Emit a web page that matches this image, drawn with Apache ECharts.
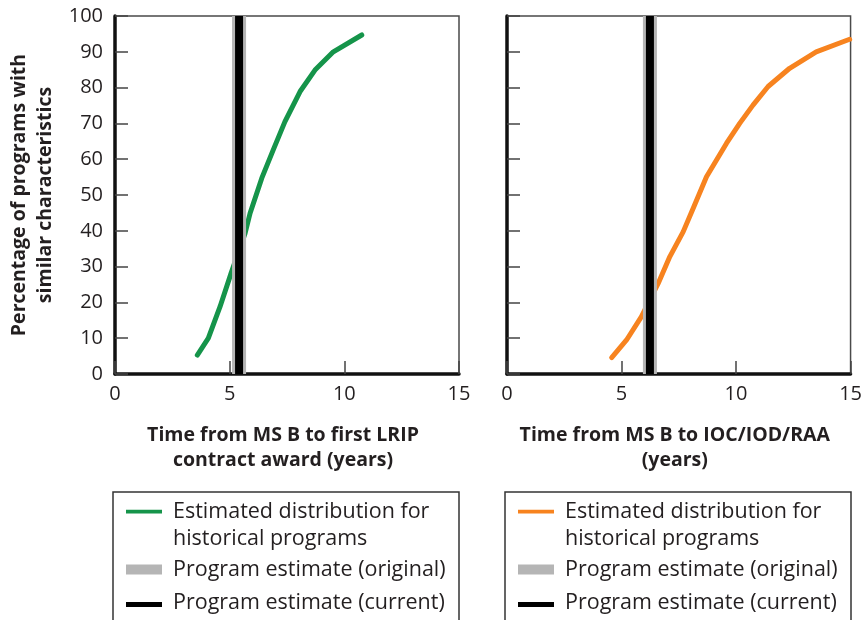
<!DOCTYPE html>
<html>
<head>
<meta charset="utf-8">
<script src="https://cdn.jsdelivr.net/npm/echarts@6/dist/echarts.min.js"></script>
<style>html,body{margin:0;padding:0;background:#fff}#c{width:865px;height:620px}</style>
</head>
<body>
<div id="c"></div>
<script>
// ---- data ----
const lripYears = [3.59, 4.07, 4.58, 5.06, 5.67, 5.89, 6.40, 6.90, 7.41, 8.07, 8.72, 9.52, 10.76];
const lripPct   = [5.3, 10.0, 18.8, 28.1, 39.3, 44.9, 54.7, 62.6, 70.5, 78.9, 84.9, 90.0, 94.7];
const iocYears  = [4.57, 5.22, 5.87, 6.60, 7.11, 7.69, 8.13, 8.71, 9.58, 10.16, 10.74, 11.40, 12.34, 13.50, 14.96];
const iocPct    = [4.6, 9.5, 16.0, 25.3, 32.8, 39.7, 46.3, 55.1, 64.4, 70.0, 75.1, 80.3, 85.4, 90.0, 93.5];
const estimateOriginal = [5.41, 6.24]; // [LRIP panel, IOC panel]
const estimateCurrent  = [5.41, 6.24];
const pctRange = [0, 100];
const xAxisTitles = ['Time from MS B to first LRIP\ncontract award (years)', 'Time from MS B to IOC/IOD/RAA\n(years)'];
const yAxisTitle = 'Percentage of programs with\nsimilar characteristics';
const nameDist = 'Estimated distribution for\nhistorical programs';
const nameOrig = 'Program estimate (original)';
const nameCur = 'Program estimate (current)';

const FONT = 'Open Sans';
const TXT = '#231f20';
const GREEN = '#15944a';
const ORANGE = '#f7831f';
const GRAY = '#b5b5b5';
const BLACK = '#000000';

function zip(a, b) { return a.map((v, i) => [v, b[i]]); }
function vline(x) { return pctRange.map(p => [x, p]); }

const grids = [
  {left: 115, top: 16, width: 344, height: 358},
  {left: 507, top: 16, width: 344, height: 358}
].map(g => Object.assign(g, {show: true, borderColor: '#4a4a4a', borderWidth: 1.5, backgroundColor: 'transparent'}));

function xAx(i) {
  return {
    type: 'value', gridIndex: i, min: 0, max: 15, interval: 5,
    name: xAxisTitles[i], nameLocation: 'middle', nameGap: 49,
    nameTextStyle: {fontFamily: FONT, fontSize: 19.5, fontWeight: 'bold', color: TXT, lineHeight: 25, padding: [0, 8, 0, 0]},
    axisLine: {show: true, lineStyle: {color: '#111', width: 3.5}},
    axisTick: {show: true, inside: true, length: 13, lineStyle: {color: '#444', width: 1.5}},
    axisLabel: {fontFamily: FONT, fontSize: 20, color: TXT, margin: 10},
    splitLine: {show: false}
  };
}
function yAx(i) {
  return {
    type: 'value', gridIndex: i, min: 0, max: 100, interval: 10,
    name: i === 0 ? yAxisTitle : '', nameLocation: 'middle', nameGap: 57, nameRotate: 90,
    nameTextStyle: {fontFamily: FONT, fontSize: 19.5, fontWeight: 'bold', color: TXT, lineHeight: 26},
    axisLine: {show: true, onZero: false, lineStyle: {color: '#111', width: 3.5}},
    axisTick: {show: true, inside: true, length: 13, lineStyle: {color: '#444', width: 1.5}},
    axisLabel: {show: i === 0, fontFamily: FONT, fontSize: 20, color: TXT, margin: 12},
    splitLine: {show: false}
  };
}

function curve(i, name, data, color) {
  return {type: 'line', name, xAxisIndex: i, yAxisIndex: i, data, color,
    symbol: 'none', silent: true, z: 2, lineStyle: {color, width: 5, cap: 'round', join: 'round'}};
}
function band(i, name, x, color, w, z) {
  return {type: 'line', name, xAxisIndex: i, yAxisIndex: i, data: vline(x), color,
    symbol: 'none', silent: true, z, lineStyle: {color, width: w, cap: 'butt'}};
}

// legend icons (42 x 32 box; invisible corner dots fix the box)
const CORNERS = 'M0,0h0.01v0.01h-0.01z M41.99,31.99h0.01v0.01h-0.01z ';
const iconLine = 'path://' + CORNERS + 'M0,0.2h36v3.8h-36z';
const iconGray = 'path://' + CORNERS + 'M0,11h36v10h-36z';
const iconBlack = 'path://' + CORNERS + 'M0,15.5h36v5h-36z';

function legend(left, distColor) {
  return {
    left, top: 498.5, orient: 'vertical', padding: 0, itemGap: 1,
    itemWidth: 42, itemHeight: 32, selectedMode: false,
    itemStyle: {borderWidth: 0},
    textStyle: {fontFamily: FONT, fontSize: 21.5, color: TXT, lineHeight: 27},
    data: [
      {name: nameDist, icon: iconLine, itemStyle: {color: distColor, borderWidth: 0}},
      {name: nameOrig, icon: iconGray, itemStyle: {color: GRAY, borderWidth: 0}},
      {name: nameCur, icon: iconBlack, itemStyle: {color: BLACK, borderWidth: 0}}
    ]
  };
}

const chart = echarts.init(document.getElementById('c'), null, {renderer: 'canvas'});
chart.setOption({
  animation: false,
  backgroundColor: '#ffffff',
  textStyle: {fontFamily: FONT},
  grid: grids,
  xAxis: [xAx(0), xAx(1)],
  yAxis: [yAx(0), yAx(1)],
  legend: [legend(126, GREEN), legend(518, ORANGE)],
  graphic: [
    {type: 'rect', shape: {x: 113, y: 492, width: 346, height: 160}, style: {fill: 'none', stroke: '#333', lineWidth: 1.5}, silent: true},
    {type: 'rect', shape: {x: 505, y: 492, width: 346, height: 160}, style: {fill: 'none', stroke: '#333', lineWidth: 1.5}, silent: true}
  ],
  series: [
    curve(0, nameDist, zip(lripYears, lripPct), GREEN),
    band(0, nameOrig, estimateOriginal[0], GRAY, 14, 3),
    band(0, nameCur, estimateCurrent[0], BLACK, 8, 4),
    curve(1, nameDist, zip(iocYears, iocPct), ORANGE),
    band(1, nameOrig, estimateOriginal[1], GRAY, 14, 3),
    band(1, nameCur, estimateCurrent[1], BLACK, 8, 4)
  ]
});
</script>
</body>
</html>
